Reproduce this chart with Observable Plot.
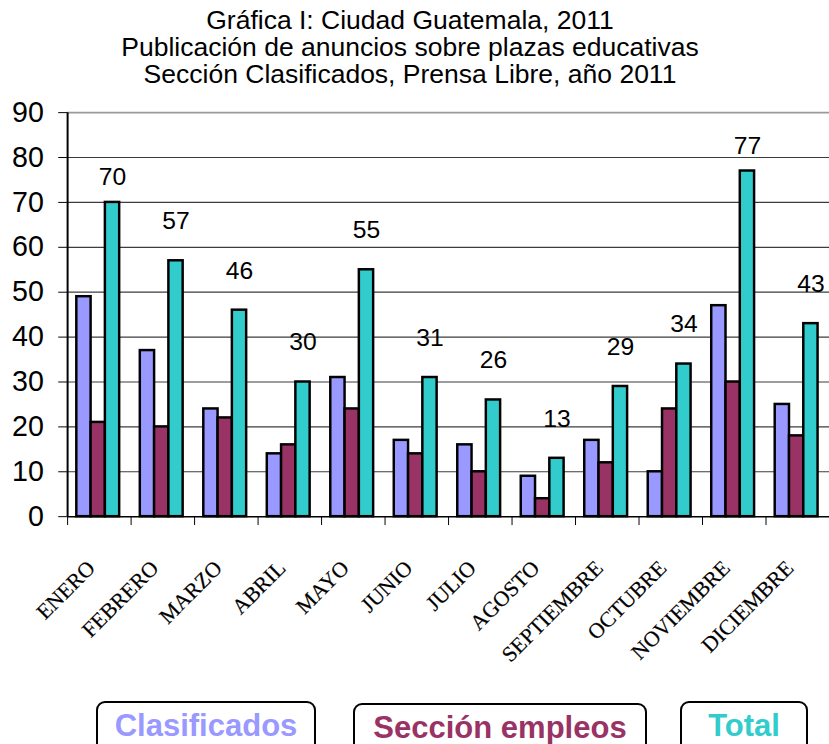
<!DOCTYPE html>
<html>
<head>
<meta charset="utf-8">
<script src="https://cdn.jsdelivr.net/npm/d3@7"></script>
<script src="https://cdn.jsdelivr.net/npm/@observablehq/plot@0.6"></script>
<style>
  html, body { margin: 0; padding: 0; background: #fff; overflow: hidden; }
  #page { position: relative; width: 829px; height: 744px; overflow: hidden;
          font-family: "Liberation Sans", Arial, sans-serif; color: #000; }
  #title { position: absolute; left: 0; top: 7px; width: 820px; text-align: center;
           font-size: 26.5px; line-height: 27px; white-space: pre-line; }
  #chart { position: absolute; left: 0; top: 100px; }
  #legend { position: absolute; left: 0; top: 701px; width: 829px; height: 60px; }
  .key { position: absolute; top: 0; height: 60px; box-sizing: border-box;
         border: 2px solid #000; border-radius: 9px; background: #fff;
         font-weight: bold; font-size: 31px; line-height: 31px; text-align: center;
         padding-top: 7px; white-space: nowrap; }
  .key:nth-child(1) { left: 96px; width: 220px; }
  .key:nth-child(2) { left: 353px; width: 294px; top: 2px; }
  .key:nth-child(3) { left: 680px; width: 128px; }
</style>
</head>
<body>
<div id="page">
  <div id="title"></div>
  <div id="chart"></div>
  <div id="legend"></div>
</div>
<script>
// Monthly counts of teaching-job ads, Prensa Libre, 2011
const months = ["ENERO", "FEBRERO", "MARZO", "ABRIL", "MAYO", "JUNIO",
                "JULIO", "AGOSTO", "SEPTIEMBRE", "OCTUBRE", "NOVIEMBRE", "DICIEMBRE"];
const clasificados   = [49, 37, 24, 14, 31, 17, 16,  9, 17, 10, 47, 25];
const seccionEmpleos = [21, 20, 22, 16, 24, 14, 10,  4, 12, 24, 30, 18];
const total          = [70, 57, 46, 30, 55, 31, 26, 13, 29, 34, 77, 43];

const seriesNames  = ["Clasificados", "Sección empleos", "Total"];
const seriesColors = ["#9999FF", "#993366", "#33CCCC"];
const yTicks = [0, 10, 20, 30, 40, 50, 60, 70, 80, 90];
const titleLines = [
  "Gráfica I: Ciudad Guatemala, 2011",
  "Publicación de anuncios sobre plazas educativas",
  "Sección Clasificados, Prensa Libre, año 2011"
];

// Long-format table: one row per month × series
const seriesValues = [clasificados, seccionEmpleos, total];
const rows = months.flatMap((month, i) =>
  seriesNames.map((series, j) => ({ i, j, month, series, value: seriesValues[j][i] })));

// Each month occupies one unit on x; the three bars sit side by side inside it
const GROUP_START = 0.145;
const BAR_W = 0.225;
const barLeft = d => d.i + GROUP_START + d.j * BAR_W;
const barMid = d => barLeft(d) + BAR_W / 2;

const totals = rows.filter(d => d.series === "Total");
const tallTotals = totals.filter(d => d.value >= 65);
const otherTotals = totals.filter(d => d.value < 65);

const sansFont = "'Liberation Sans', Arial, sans-serif";
const totalLabel = { x: barMid, y: "value", text: d => String(d.value), fontSize: 25,
                     fontFamily: sansFont, ariaLabel: "total-label" };

const chart = Plot.plot({
  width: 840,
  height: 600,
  marginLeft: 68,
  marginRight: 0,
  marginTop: 12.3,
  marginBottom: 178.3,
  style: { fontFamily: sansFont, background: "transparent", overflow: "visible" },
  x: { type: "linear", domain: [0, months.length], axis: null },
  y: { domain: [0, 90], axis: null },
  color: { domain: seriesNames, range: seriesColors },
  marks: [
    Plot.ruleY(yTicks.filter(v => v > 0 && v < 90), { stroke: "#3c3c3c", strokeWidth: 1.2 }),
    Plot.ruleY([90], { stroke: "#9a9a9a", strokeWidth: 2 }),
    Plot.rect(rows, {
      x1: barLeft,
      x2: d => barLeft(d) + BAR_W,
      y1: 0,
      y2: "value",
      fill: "series",
      stroke: "#000",
      strokeWidth: 2.5
    }),
    Plot.ruleY([0], { stroke: "#000", strokeWidth: 1.5 }),
    Plot.ruleX([0], { y1: 0, y2: 90, stroke: "#000", strokeWidth: 2 }),
    Plot.axisY({ ticks: yTicks, tickSize: 9, tickPadding: 15, fontSize: 29, label: null, tickFormat: d => String(d) }),
    Plot.axisX({ ticks: d3.range(months.length + 1), tickSize: 9, tickFormat: () => "", label: null }),
    Plot.text(months, {
      x: (d, i) => i + 0.5,
      y: 0,
      text: d => d,
      rotate: -45,
      textAnchor: "end",
      dx: -8,
      dy: 48.5,
      fontFamily: "'Liberation Serif', 'Times New Roman', serif",
      fontSize: 22,
      fill: "#000",
      stroke: "#000",
      strokeWidth: 0.2
    }),
    Plot.text(otherTotals, { ...totalLabel, dy: -40 }),
    Plot.text(tallTotals, { ...totalLabel, dy: -25.5 })
  ]
});

// Narrow the total labels horizontally around their anchor
d3.select(chart).selectAll("g[aria-label='total-label'] text").each(function () {
  const el = d3.select(this);
  const t = el.attr("transform");
  if (t) {
    el.attr("transform", t + " scale(0.84,1)");
  } else {
    const x = +el.attr("x"), y = +el.attr("y");
    el.attr("x", null).attr("y", null).attr("transform", `translate(${x},${y}) scale(0.84,1)`);
  }
});
document.getElementById("chart").appendChild(chart);

// Three-line title as a single text block
document.getElementById("title").textContent = titleLines.join("\n");

// Boxed legend entries coloured like their series
const legend = document.getElementById("legend");
seriesNames.forEach((name, j) => {
  const key = document.createElement("div");
  key.className = "key";
  key.style.color = seriesColors[j];
  key.textContent = name;
  legend.appendChild(key);
});
</script>
</body>
</html>
